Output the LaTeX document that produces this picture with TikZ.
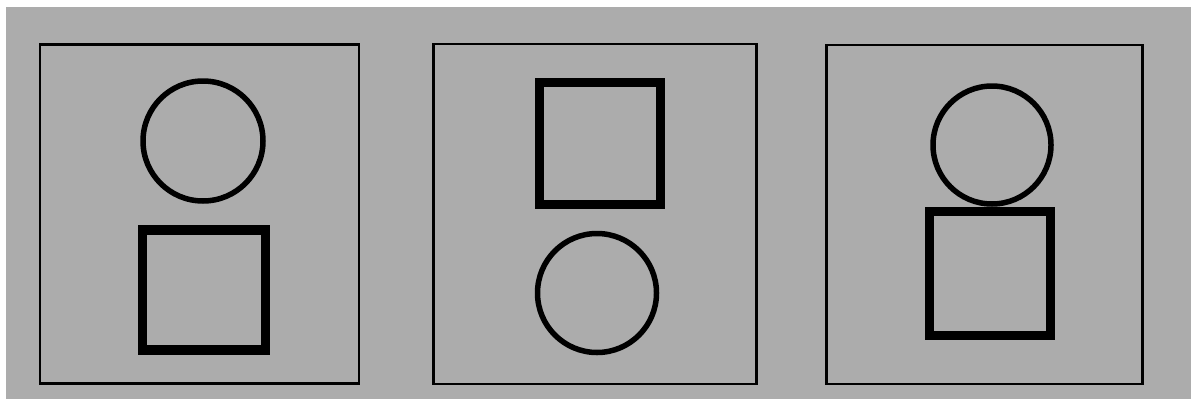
\documentclass[tikz,border=0pt]{standalone}
\definecolor{paper}{RGB}{172,172,172}
\tikzset{
  frame/.style={draw=black, line width=2.2pt, inner sep=0pt},
  ring/.style={draw=black, circle, line width=5.5pt, inner sep=0pt},
  sqbox/.style={draw=black, rectangle, line width=9.5pt, inner sep=0pt},
}
\begin{document}
\begin{tikzpicture}[x=1pt,y=-1pt]
\useasboundingbox (0,0) rectangle (1191,399);
\fill[white] (0,0) rectangle (1191,399);
\fill[paper] (6,7) rectangle (1191,399);
% panel 1
\node[frame, minimum width=319pt, minimum height=339pt] (p1) at (199.5,214) {};
\node[ring, minimum size=120pt] (c1) at (203,141) {};
\node[sqbox, minimum width=123pt, minimum height=120pt] (s1) at (204,290) {};
% panel 2
\node[frame, minimum width=323pt, minimum height=340pt] (p2) at (595,214) {};
\node[sqbox, minimum width=121pt, minimum height=122pt] (s2) at (600,143.5) {};
\node[ring, minimum size=119pt] (c2) at (597,293) {};
% panel 3
\node[frame, minimum width=316pt, minimum height=339pt] (p3) at (984.5,214.5) {};
\node[ring, minimum size=118pt] (c3) at (992,145) {};
\node[sqbox, minimum width=121pt, minimum height=124pt] (s3) at (990,273.5) {};
\end{tikzpicture}
\end{document}
